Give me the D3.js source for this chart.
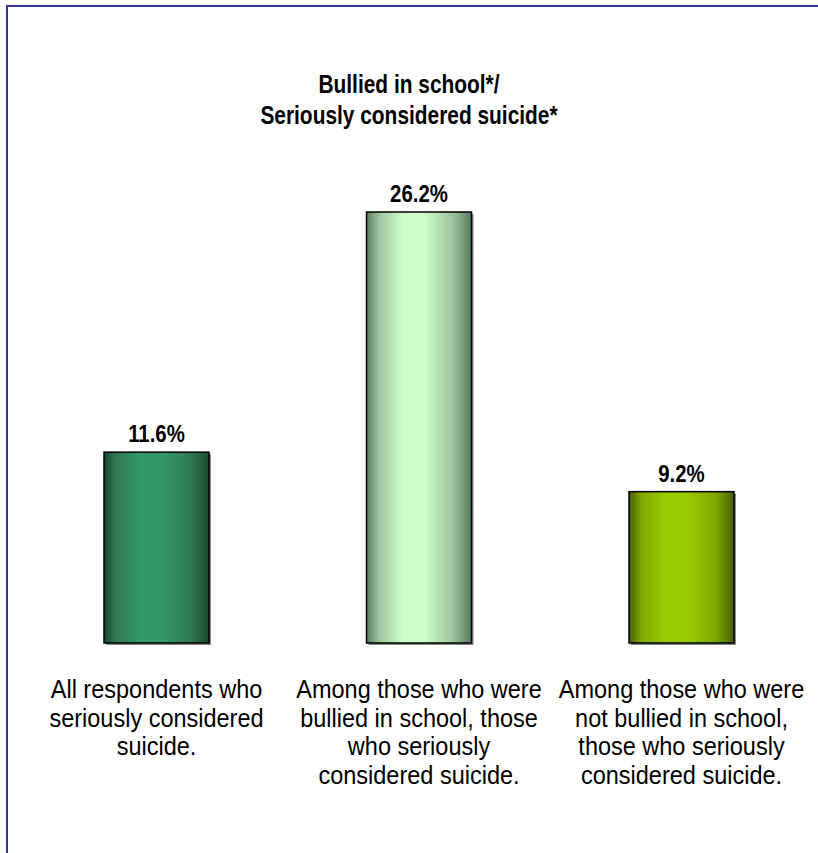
<!DOCTYPE html>
<html><head><meta charset="utf-8">
<script src="https://cdn.jsdelivr.net/npm/d3@7"></script>
<style>body{margin:0;background:#fff}svg{display:block}</style>
</head><body>
<svg id="c" width="818" height="853"></svg>
<script>
const titleLines = ["Bullied in school*/", "Seriously considered suicide*"];
const categories = ["c1", "c2", "c3"];
const categoryLabels = [
  ["All respondents who", "seriously considered", "suicide."],
  ["Among those who were", "bullied in school, those", "who seriously", "considered suicide."],
  ["Among those who were", "not bullied in school,", "those who seriously", "considered suicide."]
];
const values = [11.6, 26.2, 9.2];
const valueLabels = ["11.6%", "26.2%", "9.2%"];
const barColors = [
  {edge: "#1a4830", mid: "#2f7a52", light: "#339966"},
  {edge: "#5a7a5c", mid: "#9cc49c", light: "#ccffcc"},
  {edge: "#475f00", mid: "#7fa800", light: "#99cc00"}
];

const svg = d3.select("#c");
const font = "Arial, 'Liberation Sans', Helvetica, sans-serif";

// frame
svg.append("rect").attr("x", 7).attr("y", 6).attr("width", 900).attr("height", 900)
  .attr("fill", "none").attr("stroke", "#333399").attr("stroke-width", 2);

// title (condensed)
svg.append("g").selectAll("text").data(titleLines).join("text")
  .attr("transform", (d, i) => `translate(409,${93 + i * 30.5}) scale(0.82,1)`)
  .attr("text-anchor", "middle").attr("font-family", font)
  .attr("font-weight", "bold").attr("font-size", 25.5).attr("fill", "#000")
  .text(d => d);

const x = d3.scaleBand().domain(categories).range([25.25, 812.75])
  .paddingInner(0.6).paddingOuter(0.3);
const y = d3.scaleLinear().domain([0, 26.2]).range([643, 212]);

const defs = svg.append("defs");
barColors.forEach((c, i) => {
  const g = defs.append("linearGradient").attr("id", "g" + i)
    .attr("x1", "0").attr("x2", "1").attr("y1", "0").attr("y2", "0");
  [[0, c.edge], [0.12, c.mid], [0.35, c.light], [0.55, c.light], [0.82, c.mid], [1, c.edge]]
    .forEach(([o, col]) => g.append("stop").attr("offset", o).attr("stop-color", col));
});

const data = categories.map((k, i) => ({k, v: values[i], lab: valueLabels[i], cat: categoryLabels[i], i}));

// shadow
svg.append("g").selectAll("rect").data(data).join("rect")
  .attr("x", d => x(d.k) + 2).attr("y", d => y(d.v) + 2)
  .attr("width", x.bandwidth()).attr("height", d => y(0) - y(d.v))
  .attr("fill", "#888");

svg.append("g").selectAll("rect").data(data).join("rect")
  .attr("x", d => x(d.k)).attr("y", d => y(d.v))
  .attr("width", x.bandwidth()).attr("height", d => y(0) - y(d.v))
  .attr("fill", d => `url(#g${d.i})`).attr("stroke", "#000").attr("stroke-width", 1.5);

svg.append("g").selectAll("text").data(data).join("text")
  .attr("transform", d => `translate(${x(d.k) + x.bandwidth() / 2},${y(d.v) - 10}) scale(0.85,1)`)
  .attr("text-anchor", "middle").attr("font-family", font)
  .attr("font-weight", "bold").attr("font-size", 24).attr("fill", "#000")
  .text(d => d.lab);

const lg = svg.append("g").selectAll("text").data(data).join("text")
  .attr("transform", d => `translate(${x(d.k) + x.bandwidth() / 2},0) scale(0.94,1)`)
  .attr("text-anchor", "middle").attr("font-family", font)
  .attr("font-size", 25).attr("fill", "#000");
lg.selectAll("tspan").data(d => d.cat).join("tspan")
  .attr("x", 0).attr("y", (d, j) => 698 + j * 28.7)
  .text(d => d);
</script>
</body></html>
